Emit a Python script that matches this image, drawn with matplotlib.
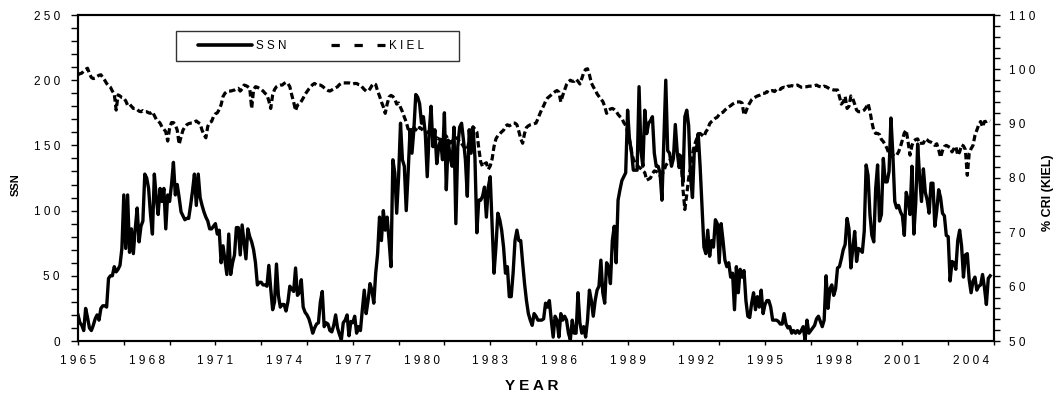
import numpy as np
import matplotlib
matplotlib.use("Agg")
import matplotlib.pyplot as plt
from matplotlib.ticker import MultipleLocator, FixedLocator, FuncFormatter
from matplotlib.lines import Line2D
from matplotlib.patches import Rectangle

plt.rcParams['font.family'] = ['Liberation Sans', 'DejaVu Sans']

start_year = 1965

# monthly sunspot number, Jan 1965 .. Nov 2004 (one row per year)
ssn = [
    20, 14, 12, 8, 25, 18, 10, 8, 12, 17, 20, 16,
    25, 27, 27, 26, 48, 50, 50, 57, 53, 55, 58, 71,
    112, 71, 112, 68, 86, 67, 86, 102, 76, 88, 92, 128,
    125, 117, 97, 82, 128, 110, 97, 117, 107, 117, 86, 112,
    107, 120, 137, 112, 120, 110, 99, 96, 93, 94, 94, 104,
    115, 128, 104, 128, 110, 104, 99, 95, 92, 86, 86, 88,
    90, 82, 85, 60, 73, 62, 51, 82, 51, 60, 66, 87,
    87, 66, 89, 76, 63, 86, 80, 76, 70, 60, 43, 45,
    45, 43, 43, 42, 58, 40, 24, 30, 59, 35, 26, 28,
    28, 23, 30, 42, 40, 38, 56, 35, 37, 47, 26, 22,
    20, 17, 12, 6, 10, 13, 14, 30, 38, 11, 14, 13,
    8, 7, 12, 20, 10, 5, 1, 14, 16, 20, 4, 15,
    14, 19, 6, 11, 8, 24, 39, 21, 31, 44, 39, 29,
    52, 67, 95, 77, 100, 85, 95, 77, 57, 139, 129, 98,
    126, 167, 139, 134, 100, 129, 162, 144, 162, 189, 187, 182,
    167, 172, 159, 126, 159, 180, 149, 162, 136, 149, 154, 139,
    175, 116, 154, 141, 134, 164, 90, 149, 164, 167, 154, 139,
    111, 162, 144, 164, 141, 83, 108, 108, 111, 118, 95, 118,
    126, 90, 52, 72, 98, 93, 85, 72, 52, 57, 34, 34,
    52, 77, 85, 77, 77, 60, 44, 31, 21, 16, 12, 21,
    19, 16, 16, 16, 17, 29, 26, 31, 16, 3, 19, 16,
    3, 21, 16, 19, 16, 6, 1, 16, 6, 6, 37, 14,
    6, 11, 3, 16, 39, 31, 19, 31, 39, 42, 62, 37,
    29, 60, 57, 44, 77, 88, 60, 108, 116, 123, 126, 129,
    177, 154, 146, 131, 131, 131, 195, 146, 134, 177, 159, 167,
    169, 172, 144, 134, 134, 129, 108, 154, 200, 146, 144, 134,
    140, 166, 145, 133, 140, 122, 172, 177, 165, 125, 110, 148,
    146, 159, 134, 103, 72, 67, 85, 65, 77, 72, 93, 90,
    60, 90, 77, 62, 57, 60, 49, 52, 24, 57, 37, 55,
    49, 54, 31, 19, 18, 29, 37, 24, 34, 26, 39, 21,
    28, 31, 31, 26, 16, 16, 16, 15, 13, 13, 21, 13,
    10, 11, 6, 8, 6, 8, 6, 8, 11, 1, 16, 6,
    8, 10, 12, 17, 19, 15, 11, 16, 50, 25, 40, 43,
    35, 40, 56, 57, 63, 70, 74, 94, 86, 56, 71, 84,
    61, 71, 70, 68, 84, 135, 127, 97, 81, 76, 117, 135,
    92, 97, 140, 122, 122, 130, 171, 143, 107, 102, 104, 99,
    96, 81, 114, 108, 97, 134, 82, 106, 151, 126, 107, 132,
    114, 108, 98, 121, 121, 88, 100, 116, 110, 98, 96, 81,
    80, 46, 61, 60, 55, 77, 85, 73, 49, 66, 67, 47,
    37, 46, 49, 39, 42, 43, 51, 41, 28, 48, 50,
]

# monthly Kiel neutron monitor count rate, % (same months)
kiel = [
    99.0, 99.2, 99.3, 99.7, 100.0, 100.2, 99.2, 98.5, 98.3, 98.4, 98.7, 98.9,
    99.0, 98.5, 98.0, 97.4, 97.0, 96.7, 96.0, 95.5, 92.5, 95.3, 95.1, 94.8,
    94.7, 94.2, 93.4, 93.6, 93.2, 92.8, 92.8, 92.6, 92.3, 92.2, 92.4, 92.2,
    92.2, 92.0, 91.9, 92.2, 91.5, 90.8, 90.5, 90.1, 89.4, 89.0, 88.5, 86.8,
    89.2, 90.2, 90.2, 89.8, 88.8, 86.2, 87.6, 88.8, 89.4, 89.8, 90.0, 90.1,
    90.1, 90.3, 90.5, 90.2, 90.0, 88.8, 88.0, 87.4, 89.5, 90.2, 90.4, 91.3,
    91.8, 92.0, 92.6, 93.5, 95.0, 95.6, 95.9, 96.0, 96.0, 96.1, 96.2, 96.4,
    96.5, 96.0, 96.4, 97.1, 97.0, 96.8, 96.5, 92.8, 96.2, 96.8, 96.7, 96.5,
    96.3, 96.0, 95.6, 95.3, 94.2, 92.8, 95.3, 96.3, 96.8, 97.0, 97.1, 97.1,
    97.4, 97.6, 97.4, 96.8, 95.3, 94.0, 92.4, 93.4, 93.6, 94.1, 94.7, 95.4,
    95.9, 96.4, 96.8, 97.2, 97.4, 97.1, 97.1, 97.1, 96.9, 96.6, 96.3, 96.1,
    96.0, 96.2, 96.4, 96.6, 96.8, 97.2, 97.4, 97.5, 97.5, 97.5, 97.5, 97.4,
    97.3, 97.4, 97.4, 97.2, 97.1, 96.7, 96.3, 96.0, 96.0, 96.4, 97.0, 97.4,
    97.2, 96.0, 95.1, 94.0, 93.1, 91.9, 93.6, 94.9, 95.2, 95.0, 94.5, 93.6,
    93.8, 93.0, 92.2, 91.2, 90.3, 89.0, 89.4, 88.2, 89.3, 88.9, 88.6, 89.3,
    89.1, 88.5, 88.2, 88.4, 88.6, 88.5, 87.5, 87.0, 87.4, 87.2, 87.0, 87.8,
    88.0, 87.7, 87.0, 86.4, 86.8, 87.1, 87.4, 87.3, 86.6, 86.4, 85.8, 85.5,
    85.2, 87.0, 88.6, 89.4, 89.0, 88.5, 85.5, 83.0, 82.1, 82.6, 82.8, 81.6,
    82.2, 83.5, 85.8, 87.2, 87.8, 88.1, 88.5, 88.8, 89.5, 89.8, 89.6, 89.8,
    90.1, 90.1, 89.8, 88.6, 87.2, 86.4, 88.2, 89.3, 89.6, 89.8, 89.9, 90.0,
    90.1, 90.9, 91.8, 92.6, 93.3, 94.1, 94.7, 95.0, 95.3, 95.6, 95.9, 96.1,
    95.8, 94.0, 95.2, 96.2, 97.2, 97.7, 98.0, 97.8, 97.8, 98.2, 97.8, 97.3,
    98.3, 99.4, 100.0, 100.1, 99.0, 97.5, 96.8, 96.2, 95.5, 95.0, 94.5, 94.1,
    93.2, 91.9, 92.5, 92.7, 92.8, 92.6, 92.3, 91.7, 91.3, 91.0, 90.2, 89.7,
    88.5, 87.2, 84.8, 83.5, 82.7, 82.3, 82.0, 81.7, 81.3, 81.0, 79.6, 79.8,
    80.0, 80.8, 81.3, 81.2, 81.0, 80.4, 80.6, 81.3, 82.3, 82.8, 83.2, 83.6,
    83.9, 84.0, 84.1, 84.3, 84.0, 78.0, 74.2, 77.0, 80.0, 82.0, 84.5, 86.0,
    87.0, 88.0, 88.2, 87.9, 87.6, 88.5, 89.0, 90.0, 90.4, 90.7, 91.0, 91.2,
    91.7, 92.0, 92.1, 92.5, 92.8, 93.1, 93.3, 93.6, 93.8, 94.0, 94.0, 94.0,
    93.8, 91.6, 92.2, 93.2, 93.8, 94.4, 94.7, 94.9, 95.1, 95.2, 95.4, 95.6,
    95.6, 95.9, 95.7, 96.0, 96.1, 95.9, 96.3, 96.5, 96.3, 96.6, 96.7, 96.6,
    96.9, 96.9, 97.0, 96.9, 97.0, 97.1, 96.9, 96.7, 96.7, 96.8, 96.8, 96.9,
    96.9, 96.9, 97.0, 97.1, 96.9, 96.8, 96.7, 96.9, 96.8, 96.6, 96.4, 96.3,
    96.2, 96.2, 96.2, 95.0, 93.6, 94.0, 95.0, 92.8, 93.2, 95.1, 94.6, 93.6,
    92.5, 92.2, 92.2, 92.3, 92.5, 93.0, 93.7, 92.3, 90.3, 88.7, 88.2, 88.2,
    88.0, 87.1, 86.7, 86.1, 85.4, 84.4, 83.9, 84.2, 84.0, 84.2, 84.8, 85.8,
    87.0, 88.3, 88.8, 86.6, 84.2, 86.0, 86.8, 87.1, 87.2, 86.3, 86.4, 86.4,
    87.2, 87.0, 86.7, 86.6, 86.4, 86.0, 86.3, 85.2, 83.8, 85.0, 85.8, 86.0,
    85.8, 85.6, 84.8, 85.4, 85.8, 84.2, 84.8, 86.1, 85.9, 85.2, 80.5, 84.5,
    85.4, 86.0, 87.8, 88.8, 89.8, 90.4, 89.4, 90.4, 90.4, 90.6, 90.5,
]

label_years = np.arange(1965, 2005, 3)
tick_years = np.arange(1965, 2006, 2)

t_ssn = start_year + np.arange(len(ssn)) / 12
t_kiel = start_year + np.arange(len(kiel)) / 12


def spaced(v, pos):
    return ' '.join('%d' % round(v))


fig = plt.figure(figsize=(10.56, 4), dpi=100)
ax = fig.add_axes([78 / 1056, 59 / 400, 916 / 1056, 326 / 400])
ax2 = ax.twinx()

ax.plot(t_ssn, ssn, color='black', lw=2.4, solid_joinstyle='round')
ax2.plot(t_kiel, kiel, color='black', lw=2.3, linestyle=(0, (2.0, 1.0)))

ax.set_xlim(1965, 2005)
ax.set_ylim(0, 250)
ax2.set_ylim(50, 110)

# x axis: labels every 3 years, tick marks every 2 years
ax.xaxis.set_major_locator(FixedLocator(label_years))
ax.xaxis.set_minor_locator(FixedLocator(tick_years))
ax.xaxis.remove_overlapping_locs = False
ax.xaxis.set_major_formatter(FuncFormatter(spaced))
ax.tick_params(axis='x', which='major', length=0, pad=10, labelsize=8.5)
ax.tick_params(axis='x', which='minor', length=3.2, width=1.0, direction='out')

ax.yaxis.set_major_locator(MultipleLocator(50))
ax.yaxis.set_minor_locator(MultipleLocator(10))
ax.yaxis.set_major_formatter(FuncFormatter(spaced))
ax.tick_params(axis='y', which='both', length=5, width=1.0, direction='out')
ax.tick_params(axis='y', which='major', pad=8, labelsize=8.5)

ax2.yaxis.set_major_locator(MultipleLocator(10))
ax2.yaxis.set_minor_locator(MultipleLocator(2))
ax2.yaxis.set_major_formatter(FuncFormatter(spaced))
ax2.tick_params(axis='y', which='both', length=4.5, width=1.0, direction='out')
ax2.tick_params(axis='y', which='major', pad=6, labelsize=8.5)

for a in (ax, ax2):
    for s in a.spines.values():
        s.set_linewidth(1.5)

fig.text(16 / 1056, 1 - 185 / 400, 'SSN', rotation=90, ha='center', va='center',
         fontsize=8, fontweight='bold')
fig.text(1048 / 1056, 1 - 193 / 400, '% CRI (KIEL)', rotation=90, ha='center',
         va='center', fontsize=9, fontweight='bold')
fig.text(532 / 1056, 1 - 386 / 400, 'Y E A R', ha='center', va='center',
         fontsize=11, fontweight='bold')

# legend with its own frame
frame = Rectangle(((176 - 78) / 916, (341 - 61) / 326), 283 / 916, 30 / 326,
                  transform=ax2.transAxes, facecolor='white', edgecolor='#333333',
                  lw=1.0, zorder=4, clip_on=False)
ax2.add_patch(frame)
h1 = Line2D([], [], color='black', lw=2.6, solid_capstyle='round')
h2 = Line2D([], [], color='black', lw=2.3, linestyle=(0, (2.6, 4.6)))
ax2.legend([h1, h2], ['S S N', 'K I E L'], ncol=2, frameon=False,
           loc='center left', bbox_to_anchor=((198 - 78) / 916, (341 - 46) / 326),
           borderpad=0, borderaxespad=0, handlelength=4.6, handletextpad=0.4,
           columnspacing=3.8, prop={'size': 8.4})

fig.savefig('out.png', dpi=100)
